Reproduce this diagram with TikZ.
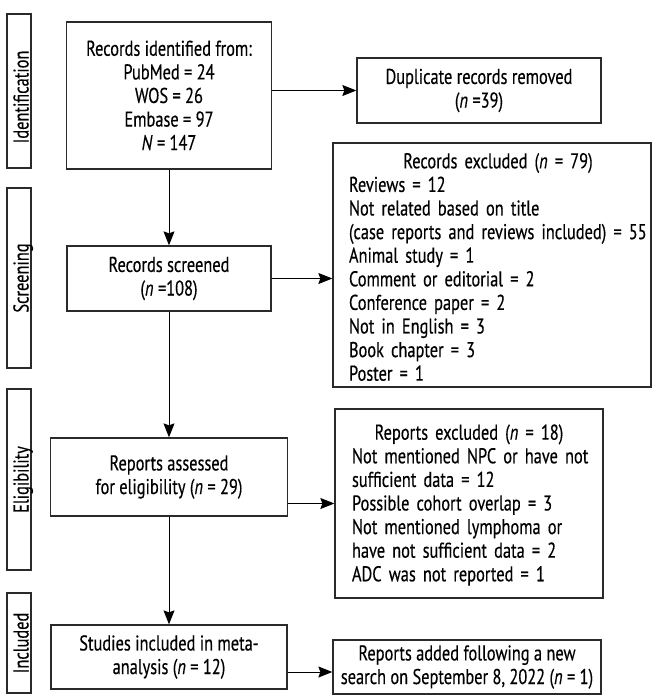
\documentclass[tikz,border=0pt]{standalone}
\usepackage{fontspec}
\setmainfont{PT Sans}[FakeStretch=0.765,FakeBold=0.35]
\usetikzlibrary{arrows.meta}
\definecolor{boxc}{HTML}{2A2A2A}
\newcommand\myfs{\fontsize{21.4}{23.6}\selectfont}
\begin{document}
\begin{tikzpicture}[x=1pt,y=-1pt,
  box/.style={draw=boxc, line width=1.3pt, inner sep=0pt, align=center, font=\myfs},
  sidebox/.style={draw=boxc, line width=1.3pt, inner sep=0pt, minimum width=24pt},
  sidetext/.style={rotate=90, anchor=base, inner sep=0pt, font=\myfs},
  arr/.style={draw=black, line width=1pt, -{Stealth[length=14pt,width=11pt,inset=2pt]}},
  line/.style={draw=black, line width=1pt}]
\useasboundingbox (0,0) rectangle (652,697);

% side labels
\node[sidebox, minimum height=154pt] (sid) at (19,91) {};
\node[sidetext] (tid) at (28.5,97) {Identification};
\node[sidebox, minimum height=180pt] (ssc) at (19,278) {};
\node[sidetext] (tsc) at (28.5,278) {Screening};
\node[sidebox, minimum height=181pt] (sel) at (19,479.5) {};
\node[sidetext] (tel) at (28.5,479.5) {Eligibility};
\node[sidebox, minimum height=100pt] (sin) at (19,643) {};
\node[sidetext] (tin) at (28.5,643) {Included};

% main column
\node[box, minimum width=205pt, minimum height=147pt] (b1) at (169,95.5)
  {Records identified from:\\PubMed = 24\\WOS = 26\\Embase = 97\\\textit{N} = 147};
\node[box, minimum width=204pt, minimum height=65pt] (b2) at (169,278.5)
  {Records screened\\(\textit{n} =108)};
\node[box, minimum width=237pt, minimum height=78pt] (b3) at (169,477)
  {Reports assessed\\for eligibility (\textit{n} = 29)};
\node[box, minimum width=236pt, minimum height=64pt] (b4) at (169,657)
  {Studies included in meta-\\analysis (\textit{n} = 12)};

% right column
\node[box, minimum width=244pt, minimum height=65pt] (dup) at (479,90.5)
  {Duplicate records removed\\(\textit{n} =39)};
\node[box, minimum width=318pt, minimum height=244pt] (ex) at (492,265) {};
\node[inner sep=0pt, text width=298pt, align=left, font=\myfs] (ext) at (498,267)
  {\makebox[\hsize][c]{Records excluded (\textit{n} = 79)}\\
   Reviews = 12\\
   Not related based on title\\
   (case reports and reviews included) = 55\\
   Animal study = 1\\
   Comment or editorial = 2\\
   Conference paper = 2\\
   Not in English = 3\\
   Book chapter = 3\\
   Poster = 1};
\node[box, minimum width=268pt, minimum height=189pt] (re) at (469,503.5) {};
\node[inner sep=0pt, text width=244pt, align=left, font=\myfs] (ret) at (474,505)
  {\makebox[\hsize][c]{\hspace*{-10pt}Reports excluded (\textit{n} = 18)}\\
   Not mentioned NPC or have not\\
   sufficient data = 12\\
   Possible cohort overlap = 3\\
   Not mentioned lymphoma or\\
   have not sufficient data = 2\\
   ADC was not reported = 1};
\node[box, minimum width=268pt, minimum height=54pt] (ad) at (467,667)
  {Reports added following a new\\search on September 8, 2022 (\textit{n} = 1)};

% connectors
\draw[arr] (b1.south) -- (b2.north);
\draw[arr] (b2.south) -- (b3.north);
\draw[arr] (b3.south) -- (b4.north);
\draw[arr] (dup.west -| b1.east) -- (dup.west);
\draw[arr] (b2.east) -- (b2.east -| ex.west);
\draw[arr] (re.west -| b3.east) -- (re.west);
\coordinate (a4) at (0,672);
\draw[arr] (b4.east |- a4) -- (ad.west |- a4);
\end{tikzpicture}
\end{document}
